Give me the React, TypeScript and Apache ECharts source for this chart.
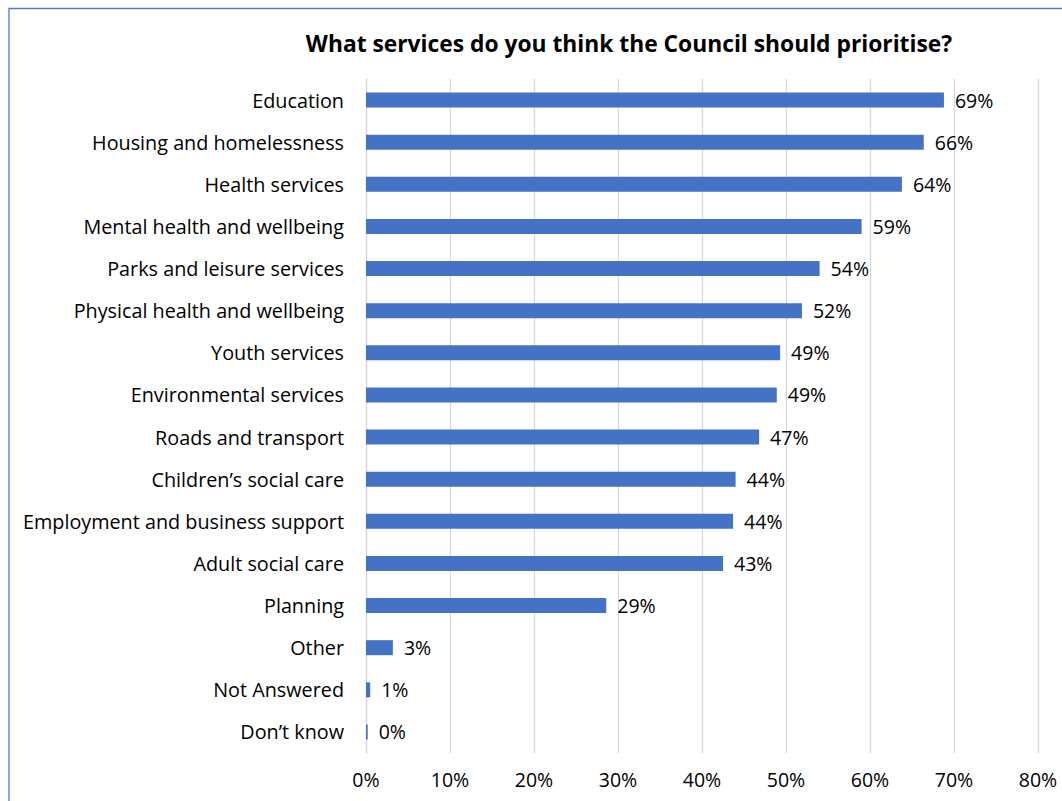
import React, { useEffect, useRef } from "react";
import * as echarts from "echarts";

const categories = [
  "Education",
  "Housing and homelessness",
  "Health services",
  "Mental health and wellbeing",
  "Parks and leisure services",
  "Physical health and wellbeing",
  "Youth services",
  "Environmental services",
  "Roads and transport",
  "Children’s social care",
  "Employment and business support",
  "Adult social care",
  "Planning",
  "Other",
  "Not Answered",
  "Don’t know",
];
const values = [68.8, 66.4, 63.8, 59.0, 54.0, 51.9, 49.3, 48.9, 46.8, 44.0, 43.7, 42.5, 28.6, 3.2, 0.5, 0.2];
const labels = ["69%", "66%", "64%", "59%", "54%", "52%", "49%", "49%", "47%", "44%", "44%", "43%", "29%", "3%", "1%", "0%"];
const xTicks = [0, 10, 20, 30, 40, 50, 60, 70, 80];

const FONT = "'Open Sans', 'Noto Sans', sans-serif";

export default function App() {
  const ref = useRef<HTMLDivElement>(null);
  useEffect(() => {
    if (!ref.current) return;
    const chart = echarts.init(ref.current, undefined, { renderer: "svg" });
    chart.setOption({
      animation: false,
      backgroundColor: "#ffffff",
      title: {
        text: "What services do you think the Council should prioritise?",
        left: 624,
        top: 27,
        textAlign: "center",
        textStyle: { fontFamily: FONT, fontSize: 22.8, fontWeight: "bold", color: "#000" },
      },
      graphic: [
        {
          type: "polyline",
          shape: { points: [[9, 801], [9, 8.5], [1062, 8.5]] },
          style: { stroke: "#4f7cc9", lineWidth: 1.3, fill: "none" },
          silent: true,
        },
      ],
      grid: { left: 366, right: 24, top: 79, bottom: 48, containLabel: false },
      xAxis: {
        type: "value",
        min: xTicks[0],
        max: xTicks[xTicks.length - 1],
        interval: 10,
        axisLine: { show: false },
        axisTick: { show: false },
        splitLine: { show: true, lineStyle: { color: "#d9d9d9", width: 1.3 } },
        axisLabel: {
          formatter: (v: number) => `${v}%`,
          fontFamily: FONT,
          fontSize: 19.5,
          color: "#000",
          margin: 16,
        },
      },
      yAxis: {
        type: "category",
        data: categories,
        inverse: true,
        axisLine: { show: true, lineStyle: { color: "#d9d9d9", width: 1.3 } },
        axisTick: { show: false },
        axisLabel: { fontFamily: FONT, fontSize: 19.8, color: "#000", margin: 22 },
      },
      series: [
        {
          type: "bar",
          data: values,
          barWidth: 15,
          itemStyle: { color: "#4472c4" },
          label: {
            show: true,
            position: "right",
            distance: 11,
            fontFamily: FONT,
            fontSize: 19.5,
            color: "#000",
            formatter: (p: any) => labels[p.dataIndex],
          },
        },
      ],
    });
    return () => chart.dispose();
  }, []);
  return (
    <div
      ref={ref}
      style={{ position: "absolute", left: 0, top: 0, width: 1062, height: 801 }}
    />
  );
}
